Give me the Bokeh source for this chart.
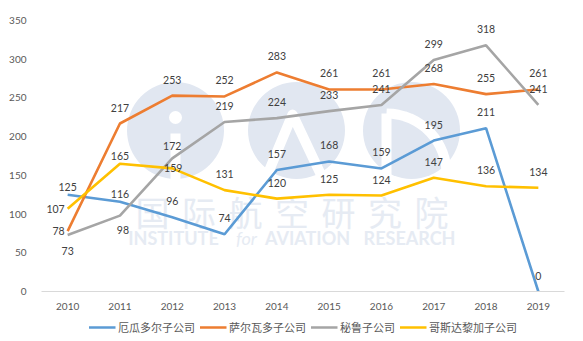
import numpy as np
from bokeh.plotting import figure
from bokeh.layouts import column
from bokeh.models import Range1d, FixedTicker, Legend, LegendItem, ColumnDataSource
from bokeh.core.properties import value
from bokeh.embed import file_html
from bokeh.resources import INLINE

years = [2010, 2011, 2012, 2013, 2014, 2015, 2016, 2017, 2018, 2019]
series_names = ["厄瓜多尔子公司", "萨尔瓦多子公司", "秘鲁子公司", "哥斯达黎加子公司"]
ecuador = [125, 116, 96, 74, 157, 168, 159, 195, 211, 0]
salvador = [78, 217, 253, 252, 283, 261, 261, 268, 255, 261]
peru = [73, 98, 172, 219, 224, 233, 241, 299, 318, 241]
costa_rica = [107, 165, 159, 131, 120, 125, 124, 147, 136, 134]
y_ticks = [0, 50, 100, 150, 200, 250, 300, 350]

# label placement per point (style only)
place = [
    ["n", "n", "a", "a", "a", "a", "a", "a", "a", "a"],
    ["l", "a", "a", "a", "a", "a", "a", "a", "a", "a"],
    ["b", "b2", "m", "a", "a", "a", "a", "a", "a", "a"],
    ["l", "n", "c", "a", "a", "a", "a", "a", "a", "a"],
]
colors = ["#5B9BD5", "#ED7D31", "#A5A5A5", "#FFC000"]
all_series = [ecuador, salvador, peru, costa_rica]

W, H_MAIN, H_LEG = 583, 313, 28
BL, BR, BT = 41, 19, 10
X0, X1, Y0, Y1 = 2009.5, 2019.5, 0, 363
FRAME_B = 291

p = figure(width=W, height=H_MAIN, output_backend="svg", toolbar_location=None,
           x_range=Range1d(X0, X1), y_range=Range1d(Y0, Y1),
           min_border_left=BL, min_border_right=BR, min_border_top=BT,
           min_border_bottom=H_MAIN - FRAME_B)
p.outline_line_color = None
p.xgrid.visible = False
p.ygrid.visible = False

# helpers to place the decorative watermark in pixel terms
def px2x(px):
    return X0 + (px - BL) * (X1 - X0) / (W - BL - BR)

def py2y(py):
    return Y0 + (FRAME_B - py) * (Y1 - Y0) / (FRAME_B - BT)

# ---- watermark (decoration) ----
wm = "#E1E7F1"
wm_txt = "#E6EBF3"
cx_px = [175, 296, 411]
p.scatter(x=[px2x(c) for c in cx_px], y=[py2y(130)] * 3, size=97, color=wm, line_color=None)
# "i"
p.scatter(x=[px2x(175)], y=[py2y(117)], size=13, color="white", line_color=None)
p.line(x=[px2x(175), px2x(175)], y=[py2y(133), py2y(186)], line_color="white", line_width=10)
# "A"
p.line(x=[px2x(262), px2x(292), px2x(326)], y=[py2y(186), py2y(114), py2y(186)],
       line_color="white", line_width=10, line_join="round")
# "R"-like
p.line(x=[px2x(386), px2x(386)], y=[py2y(113), py2y(186)], line_color="white", line_width=10)
th = np.linspace(np.pi / 2, -0.35, 20)
p.line(x=[px2x(386 + 60 * np.cos(t)) for t in th],
       y=[py2y(173 - 60 * np.sin(t)) for t in th], line_color="white", line_width=10)
# Chinese name
zh = "国际航空研究院"
p.text(x=[px2x(152 + 46.5 * i) for i in range(len(zh))], y=[py2y(211)] * len(zh), text=list(zh),
       text_align="center", text_baseline="middle", text_font=value("Noto Sans CJK SC"),
       text_font_size="34px", text_color=wm_txt)
en_words = ["INSTITUTE", "AVIATION", "RESEARCH"]
en_cx = [173, 307, 409]
p.text(x=[px2x(c) for c in en_cx], y=[py2y(237)] * 3, text=en_words,
       text_align="center", text_baseline="middle", text_font=value("Lato"),
       text_font_size="18px", text_font_style="bold", text_color=wm_txt)
p.text(x=[px2x(246)], y=[py2y(237)], text=["for"],
       text_align="center", text_baseline="middle", text_font=value("Lato"),
       text_font_size="18px", text_font_style="italic", text_color=wm_txt)

# ---- data lines ----
for name, vals, col in zip(series_names, all_series, colors):
    p.line(years, vals, line_color=col, line_width=2.6)

offs = {"a": (0, -16, "center", "middle"), "n": (0, -8, "center", "middle"),
        "m": (0, -12, "center", "middle"), "b": (0, 16, "center", "middle"),
        "b2": (3, 14, "center", "middle"), "l": (-3, 0, "right", "middle"),
        "c": (1, 0, "center", "middle")}
for vals, pl in zip(all_series, place):
    for key in offs:
        xs = [yr for yr, v, q in zip(years, vals, pl) if q == key]
        ys = [v for yr, v, q in zip(years, vals, pl) if q == key]
        if not xs:
            continue
        dx, dy, al, bl = offs[key]
        src = ColumnDataSource(dict(x=xs, y=ys, t=[str(v) for v in ys]))
        p.text(x="x", y="y", text="t", source=src, x_offset=dx, y_offset=dy,
               text_align=al, text_baseline=bl, text_font=value("Lato"),
               text_font_size="10.5px", text_color="#404040")

p.xaxis.ticker = FixedTicker(ticks=years)
p.yaxis.ticker = FixedTicker(ticks=y_ticks)
for ax in (p.xaxis, p.yaxis):
    ax.major_tick_line_color = None
    ax.minor_tick_line_color = None
    ax.major_label_text_font = "Lato"
    ax.major_label_text_font_size = "10px"
    ax.major_label_text_color = "#595959"
p.yaxis.axis_line_color = None
p.yaxis.major_label_standoff = 9
p.xaxis.axis_line_color = "#D9D9D9"
p.xaxis.axis_line_width = 1
p.xaxis.major_label_standoff = 5

# ---- legend figure (same series, drawn out of its view) ----
lg = figure(width=W, height=H_LEG, output_backend="svg", toolbar_location=None,
            x_range=Range1d(0, 1), y_range=Range1d(0, 1),
            x_axis_location=None, y_axis_location=None,
            min_border_left=0, min_border_right=0, min_border_top=0, min_border_bottom=0)
lg.outline_line_color = None
lg.xgrid.visible = False
lg.ygrid.visible = False
items = []
for name, vals, col in zip(series_names, all_series, colors):
    r = lg.line(years, vals, line_color=col, line_width=2.6)
    items.append(LegendItem(label=name, renderers=[r]))
legend = Legend(items=items, orientation="horizontal", location="center",
                label_text_font="Noto Sans CJK SC", label_text_font_size="11px",
                label_text_color="#595959", glyph_width=27, glyph_height=10,
                label_standoff=3, spacing=4, padding=0, margin=0,
                border_line_color=None, background_fill_alpha=0)
lg.add_layout(legend)

layout = column(p, lg, spacing=0)
open("out.html", "w").write(file_html(layout, INLINE))
